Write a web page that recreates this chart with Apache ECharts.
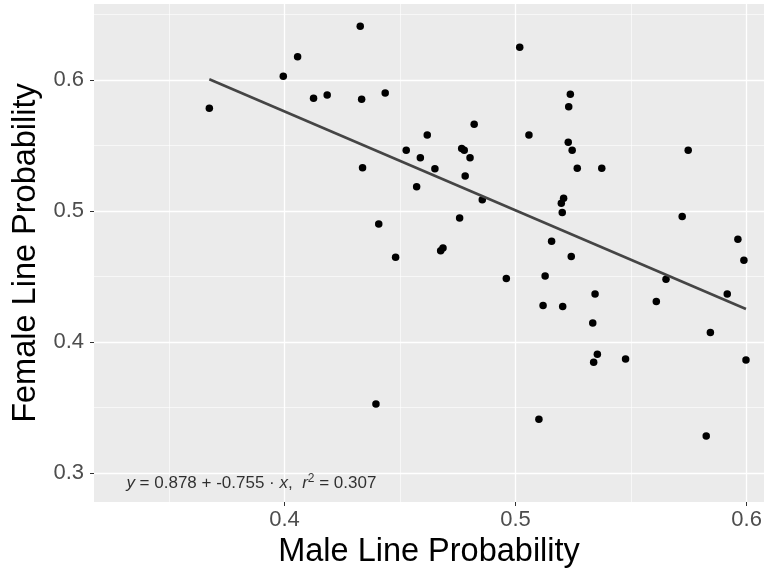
<!DOCTYPE html>
<html>
<head>
<meta charset="utf-8">
<script src="https://cdn.jsdelivr.net/npm/echarts@6/dist/echarts.min.js"></script>
<style>
    html, body { margin: 0; padding: 0; background: #fff; }
    #chart { width: 766px; height: 568px; }
</style>
</head>
<body>
<div id="chart"></div>
<script>
// 남성 / 여성 확률
var maleProb = [
    0.3675, 0.3995, 0.4057, 0.4328, 0.4126, 0.4185, 0.4334, 0.4436, 0.5018, 0.4821,
    0.5058, 0.4618, 0.4527, 0.4588, 0.4767, 0.4778, 0.4803, 0.4651, 0.4338, 0.4782,
    0.4572, 0.4856, 0.4758, 0.4408, 0.4676, 0.4686, 0.4481, 0.5237, 0.5230, 0.5228,
    0.5245, 0.5267, 0.5373, 0.5747, 0.5208, 0.5198, 0.5202, 0.5721, 0.5156, 0.5962,
    0.5241, 0.5988, 0.5128, 0.5651, 0.5344, 0.5916, 0.5119, 0.5204, 0.5609, 0.5334,
    0.5843, 0.5354, 0.5338, 0.5476, 0.5997, 0.5101, 0.5825, 0.4960, 0.4396
];
var femaleProb = [
    0.5784, 0.6028, 0.6178, 0.6410, 0.5860, 0.5886, 0.5853, 0.5901, 0.6249, 0.5662,
    0.5581, 0.5581, 0.5464, 0.5406, 0.5477, 0.5464, 0.5407, 0.5323, 0.5331, 0.5268,
    0.5186, 0.5085, 0.4946, 0.4900, 0.4696, 0.4717, 0.4648, 0.5891, 0.5796, 0.5524,
    0.5464, 0.5327, 0.5327, 0.5464, 0.5098, 0.5060, 0.4989, 0.4958, 0.4770, 0.4785,
    0.4653, 0.4625, 0.4503, 0.4480, 0.4366, 0.4366, 0.4279, 0.4272, 0.4310, 0.4145,
    0.4073, 0.3906, 0.3845, 0.3870, 0.3862, 0.3410, 0.3283, 0.4485, 0.3527
];

// 회귀식 계수 [절편, 기울기], r^2
var fitCoef = [0.878, -0.755];
var fitR2 = 0.307;

// 축 눈금
var xMajorTicks = [0.4, 0.5, 0.6];
var xMinorTicks = [0.35, 0.45, 0.55];
var yMajorTicks = [0.3, 0.4, 0.5, 0.6];
var yMinorTicks = [0.35, 0.45, 0.55, 0.65];
var xRange = [0.3176, 0.6075];
var yRange = [0.2779, 0.658];

function createChart() {
    var chartDom = document.getElementById('chart');
    var myChart = echarts.init(chartDom, null, { renderer: 'canvas' });

    var points = maleProb.map(function (x, i) { return [x, femaleProb[i]]; });

    // 회귀선 : 데이터 x 범위 양 끝
    var xMin = Math.min.apply(null, maleProb);
    var xMax = Math.max.apply(null, maleProb);
    var fitLine = [
        [xMin, fitCoef[0] + fitCoef[1] * xMin],
        [xMax, fitCoef[0] + fitCoef[1] * xMax]
    ];

    var labelText = '{i|y} = ' + fitCoef[0].toFixed(3) + ' + ' + fitCoef[1].toFixed(3) +
        ' · {i|x},  {i|r}{sup|2} = ' + fitR2.toFixed(3);

    var font = 'Liberation Sans';

    // 보조 축(얇은 격자선)과 주 축(굵은 격자선 + 라벨)을 겹쳐 그린다
    function minorAxis(range, ticks, pos) {
        return {
            type: 'value', position: pos, min: range[0], max: range[1],
            axisLine: { show: false },
            axisTick: { show: false, customValues: ticks },
            axisLabel: { show: false, customValues: ticks },
            splitLine: { show: true, lineStyle: { color: '#ffffff', width: 0.6 } }
        };
    }

    var option = {
        animation: false,
        grid: {
            left: 94, right: 2, top: 4, bottom: 66,
            outerBoundsMode: 'none',
            containLabel: false,
            show: true, backgroundColor: '#ebebeb', borderWidth: 0
        },
        xAxis: [
            minorAxis(xRange, xMinorTicks, 'bottom'),
            {
                type: 'value', position: 'bottom', min: xRange[0], max: xRange[1],
                name: 'Male Line Probability',
                nameLocation: 'middle', nameGap: 29,
                nameTextStyle: { fontFamily: font, fontSize: 32.5, color: '#000' },
                axisLine: { show: false },
                axisTick: { show: true, length: 4, customValues: xMajorTicks,
                    lineStyle: { color: '#333', width: 1 } },
                axisLabel: { customValues: xMajorTicks, margin: 7,
                    fontFamily: font, fontSize: 22, color: '#4d4d4d',
                    formatter: function (v) { return v.toFixed(1); } },
                splitLine: { show: true, lineStyle: { color: '#ffffff', width: 1.3 } }
            }
        ],
        yAxis: [
            minorAxis(yRange, yMinorTicks, 'left'),
            {
                type: 'value', position: 'left', min: yRange[0], max: yRange[1],
                name: 'Female Line Probability',
                nameLocation: 'middle', nameGap: 48,
                nameTextStyle: { fontFamily: font, fontSize: 32.5, color: '#000' },
                axisLine: { show: false },
                axisTick: { show: true, length: 4, customValues: yMajorTicks,
                    lineStyle: { color: '#333', width: 1 } },
                axisLabel: { customValues: yMajorTicks, margin: 10,
                    fontFamily: font, fontSize: 22, color: '#4d4d4d',
                    formatter: function (v) { return v.toFixed(1); } },
                splitLine: { show: true, lineStyle: { color: '#ffffff', width: 1.3 } }
            }
        ],
        series: [
            {
                type: 'scatter',
                xAxisIndex: 1, yAxisIndex: 1,
                data: points,
                symbolSize: 7.5,
                itemStyle: { color: '#000', opacity: 1 },
                z: 3
            },
            {
                type: 'line',
                xAxisIndex: 1, yAxisIndex: 1,
                data: fitLine,
                showSymbol: false,
                lineStyle: { color: '#454545', width: 2.6 },
                z: 4
            },
            {
                // 회귀식 주석
                type: 'scatter',
                xAxisIndex: 1, yAxisIndex: 1,
                data: [[0.3857, 0.2924]],
                symbolSize: 0,
                silent: true,
                label: {
                    show: true, position: 'inside',
                    formatter: labelText,
                    fontFamily: font, fontSize: 17, color: '#000',
                    rich: {
                        i: { fontFamily: font, fontSize: 17, fontStyle: 'italic', color: '#000' },
                        sup: { fontFamily: font, fontSize: 12, color: '#000',
                            verticalAlign: 'bottom', padding: [0, 0, 9, 0] }
                    }
                },
                z: 5
            }
        ]
    };

    option && myChart.setOption(option);
}

createChart();
</script>
</body>
</html>
